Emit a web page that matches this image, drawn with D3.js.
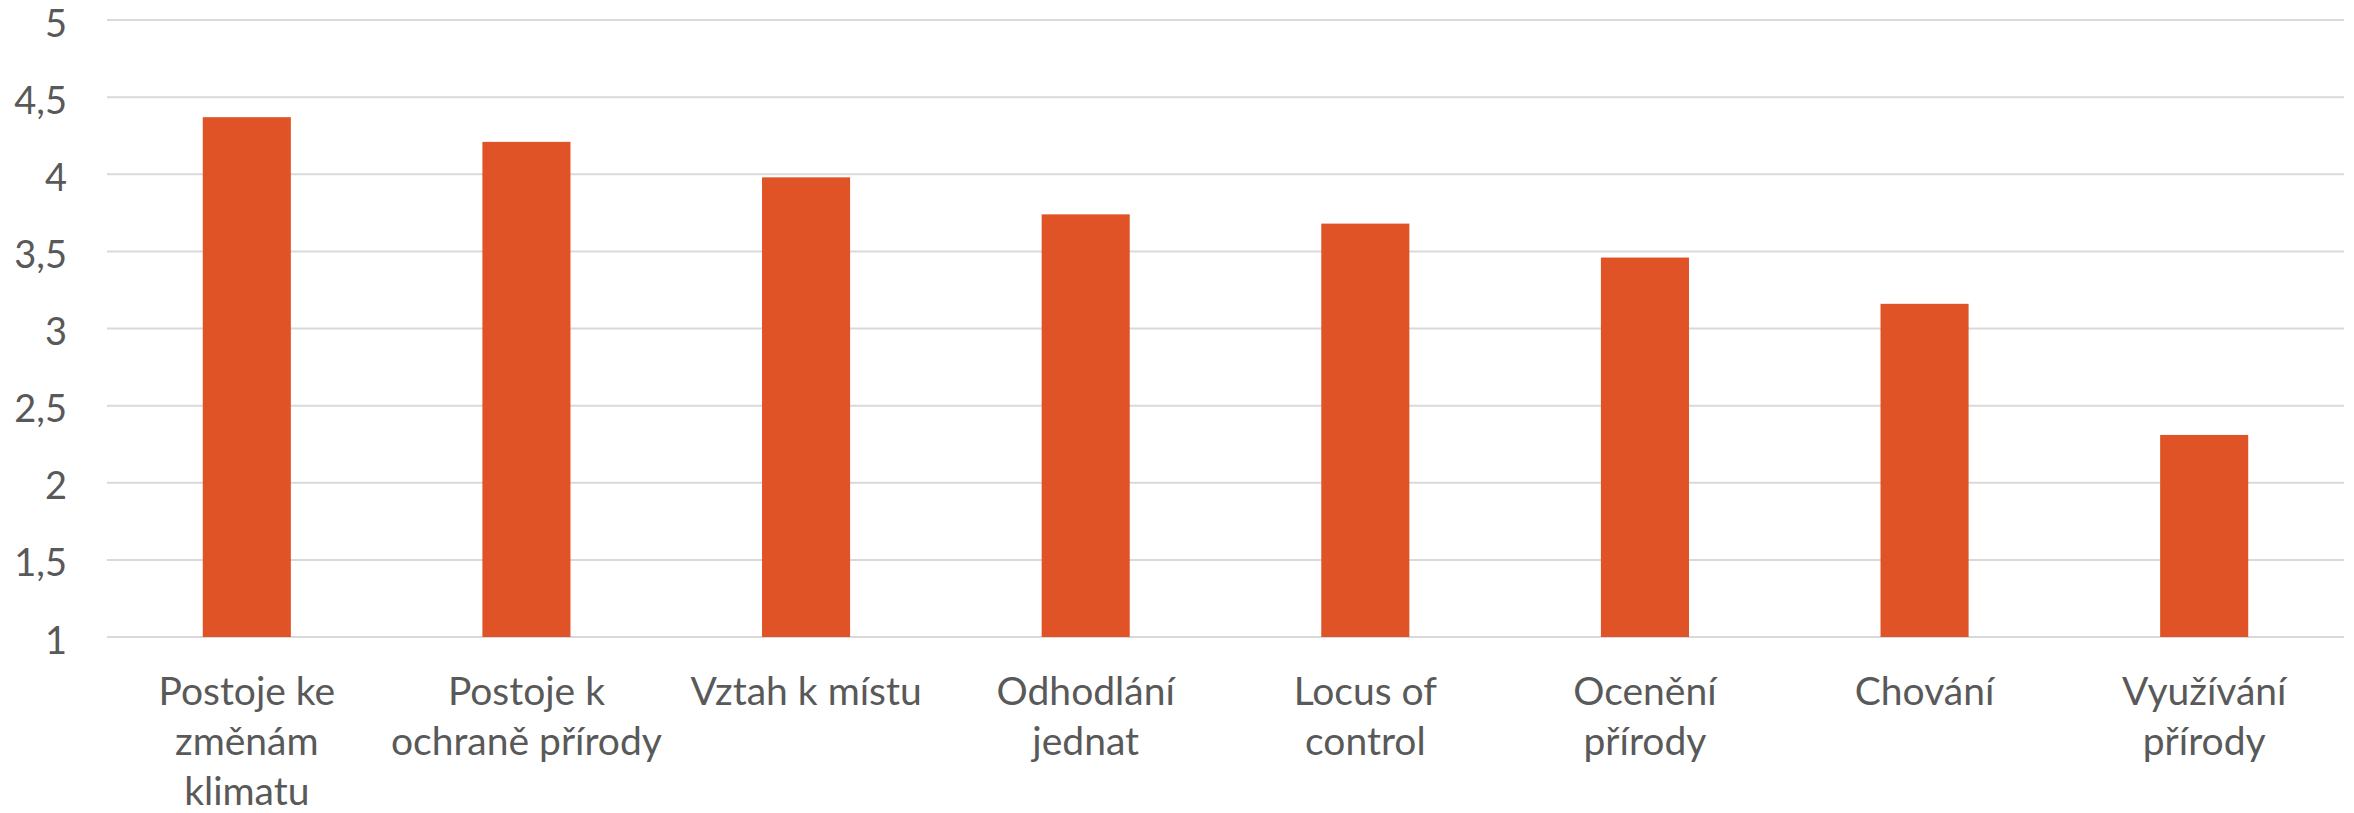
<!DOCTYPE html>
<html>
<head>
<meta charset="utf-8">
<script src="https://cdn.jsdelivr.net/npm/d3@7"></script>
<style>
    html, body { margin: 0; padding: 0; background: #ffffff; }
    svg { display: block; }
    .tick-label { font-family: Lato, "Open Sans", sans-serif; fill: #595959; }
</style>
</head>
<body>
<svg id="graph-svg" width="2354" height="813"></svg>
<script>
'use strict';

/* -- Data ------------------------------------------------------------------ */
const categories = [
    'Postoje ke\nzměnám\nklimatu',
    'Postoje k\nochraně přírody',
    'Vztah k místu',
    'Odhodlání\njednat',
    'Locus of\ncontrol',
    'Ocenění\npřírody',
    'Chování',
    'Využívání\npřírody'
];
const values = [4.37, 4.21, 3.98, 3.74, 3.68, 3.46, 3.16, 2.31];
const yTicks = [1, 1.5, 2, 2.5, 3, 3.5, 4, 4.5, 5];

/* -- Settings -------------------------------------------------------------- */
const svgW = 2354;
const svgH = 813;
const margin = { top: 20, right: 10, bottom: 176, left: 107 };
const barColor = '#e05326';
const gridColor = '#d9d9d9';

const svg = d3.select('#graph-svg');

/* -- Scales ---------------------------------------------------------------- */
const xScale = d3.scaleBand()
    .domain(categories)
    .range([margin.left, svgW - margin.right])
    .paddingInner(0.685)
    .paddingOuter(0.3425);

const yScale = d3.scaleLinear()
    .domain([1, 5])
    .range([svgH - margin.bottom, margin.top]);

/* -- Gridlines ------------------------------------------------------------- */
const grid = svg.append('g').attr('class', 'grid');
grid.selectAll('line')
    .data(yTicks)
    .enter()
    .append('line')
    .attr('x1', margin.left)
    .attr('x2', svgW - margin.right)
    .attr('y1', function(d) { return yScale(d); })
    .attr('y2', function(d) { return yScale(d); })
    .attr('stroke', gridColor)
    .attr('stroke-width', 2);

/* -- Y axis labels (comma decimals) ---------------------------------------- */
const yAxis = d3.axisLeft(yScale)
    .tickValues(yTicks)
    .tickSize(0)
    .tickPadding(0)
    .tickFormat(function(d) { return String(d).replace('.', ','); });

const yAxisElement = svg.append('g')
    .attr('class', 'y axis')
    .attr('transform', 'translate(67,0)')
    .call(yAxis);
yAxisElement.select('.domain').remove();
yAxisElement.selectAll('text')
    .attr('class', 'tick-label')
    .attr('font-size', 38)
    .attr('dy', 16)
    .attr('text-anchor', 'end');

/* -- Bars ------------------------------------------------------------------ */
svg.append('g').attr('class', 'bars')
    .selectAll('rect')
    .data(values)
    .enter()
    .append('rect')
    .attr('x', function(d, i) { return xScale(categories[i]); })
    .attr('width', xScale.bandwidth())
    .attr('y', function(d) { return yScale(d); })
    .attr('height', function(d) { return yScale(1) - yScale(d); })
    .attr('fill', barColor);

/* -- X axis labels, one tspan per line ------------------------------------- */
const xAxis = d3.axisBottom(xScale).tickSize(0).tickPadding(0);
const xAxisElement = svg.append('g')
    .attr('class', 'x axis')
    .attr('transform', 'translate(0,' + yScale(1) + ')')
    .call(xAxis);
xAxisElement.select('.domain').remove();
xAxisElement.selectAll('text').each(function(d) {
    const t = d3.select(this);
    t.text(null)
        .attr('class', 'tick-label')
        .attr('font-size', 39)
        .attr('y', 0)
        .attr('dy', null);
    d.split('\n').forEach(function(line, i) {
        t.append('tspan')
            .attr('x', 0)
            .attr('y', 68 + i * 50)
            .text(line);
    });
});
</script>
</body>
</html>
